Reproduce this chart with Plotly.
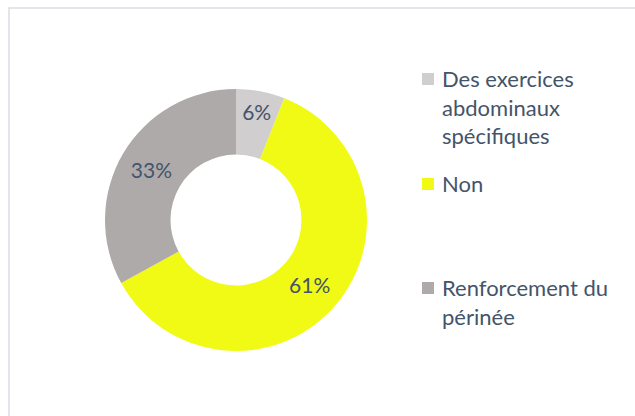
import plotly.graph_objects as go

# Survey answers and their shares (%)
labels = ["Des exercices<br>abdominaux<br>spécifiques", "Non", "Renforcement du<br>périnée"]
values = [6, 61, 33]
colors = ["#D0CECE", "#F0FA14", "#AEAAAA"]

W, H = 635, 416
TEXT_COLOR = "#44546A"
FONT = "Lato"
FS = 22

def px_x(x):
    return x / W

def px_y(y):
    return 1 - y / H

fig = go.Figure(
    go.Pie(
        labels=labels,
        values=values,
        hole=0.5,
        sort=False,
        direction="clockwise",
        rotation=0,
        marker=dict(colors=colors, line=dict(width=0)),
        textinfo="percent",
        texttemplate="%{percent:.0%}",
        textposition="inside",
        insidetextorientation="horizontal",
        textfont=dict(family=FONT, size=21, color=TEXT_COLOR),
        showlegend=False,
        hoverinfo="label+percent",
        domain=dict(x=[px_x(105), px_x(367)], y=[px_y(351), px_y(89)]),
    )
)

# Hand-placed legend, entries spread down the right-hand side
legend_rows = [79, 184, 288]
shapes = []
annotations = []
for lab, col, yc in zip(labels, colors, legend_rows):
    shapes.append(dict(
        type="rect", xref="paper", yref="paper",
        x0=px_x(422), x1=px_x(434), y0=px_y(yc + 6), y1=px_y(yc - 6),
        fillcolor=col, line=dict(width=0),
    ))
    annotations.append(dict(
        text=lab, xref="paper", yref="paper",
        x=px_x(440), y=px_y(yc - 16), xanchor="left", yanchor="top",
        align="left", showarrow=False,
        font=dict(family=FONT, size=FS, color=TEXT_COLOR),
    ))

# Chart frame
shapes.append(dict(
    type="rect", xref="paper", yref="paper",
    x0=px_x(9), x1=1.05, y0=-0.05, y1=px_y(8),
    line=dict(color="#D9DDE2", width=1.5), fillcolor="rgba(0,0,0,0)",
    layer="below",
))

fig.update_layout(
    width=W, height=H,
    margin=dict(l=0, r=0, t=0, b=0),
    paper_bgcolor="white",
    plot_bgcolor="white",
    shapes=shapes,
    annotations=annotations,
    font=dict(family=FONT, color=TEXT_COLOR),
)

fig.write_html("out.html")
